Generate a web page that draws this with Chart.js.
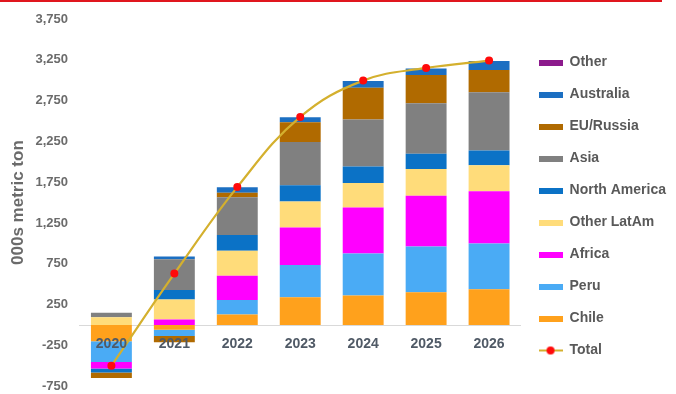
<!DOCTYPE html>
<html>
<head>
<meta charset="utf-8">
<script src="https://cdn.jsdelivr.net/npm/chart.js@4.4.1/dist/chart.umd.min.js"></script>
<style>
  html, body { margin: 0; padding: 0; background: #ffffff; }
  #wrap { position: relative; width: 676px; height: 394px; }
  #rule { position: absolute; left: 0; top: 0; width: 662px; height: 2px; background: #e0161e; }
  canvas { display: block; }
</style>
</head>
<body>
<div id="wrap">
  <canvas id="chart" width="676" height="394"></canvas>
  <div id="rule"></div>
</div>
<script>
// Copper supply contribution by region, 000s metric ton
const years = ['2020', '2021', '2022', '2023', '2024', '2025', '2026'];

const chile        = [-198, -59, 128, 340, 360, 400, 437];
const peru         = [-256, -76, 179, 395, 516, 561, 563];
const africa       = [-80, 67, 297, 460, 565, 622, 640];
const otherLatAm   = [95, 244, 305, 317, 300, 329, 317];
const northAmerica = [-49, 118, 195, 200, 200, 188, 180];
const asia         = [54, 378, 463, 531, 577, 617, 714];
const euRussia     = [-65, -76, 53, 241, 391, 346, 273];
const australia    = [0, 32, 69, 61, 81, 81, 110];
const other        = [0, 0, 0, 0, 0, 0, 0];
const total        = [-500, 630, 1690, 2550, 2995, 3150, 3240];

const yTickStep = 500;
const yMin = -750;
const yMax = 3750;

const FONT = "'Liberation Sans', Arial, sans-serif";
const LINE_GOLD = '#d4b02e';
const DOT_RED = '#ff0a0a';

const barSeries = [
  { label: 'Chile',         data: chile,        color: '#ffa11c' },
  { label: 'Peru',          data: peru,         color: '#4aabf5' },
  { label: 'Africa',        data: africa,       color: '#ff00ff' },
  { label: 'Other LatAm',   data: otherLatAm,   color: '#ffdc7a' },
  { label: 'North America', data: northAmerica, color: '#0b72c6' },
  { label: 'Asia',          data: asia,         color: '#808080' },
  { label: 'EU/Russia',     data: euRussia,     color: '#b06a00' },
  { label: 'Australia',     data: australia,    color: '#1c6fc2' },
  { label: 'Other',         data: other,        color: '#8c1a8c' }
];

// Legend markers: a thick bar swatch for regions, a line with a dot for the total
function barSwatch(color) {
  const c = document.createElement('canvas');
  c.width = 24; c.height = 6;
  const g = c.getContext('2d');
  g.fillStyle = color;
  g.fillRect(0, 0, 24, 6);
  return c;
}
function lineSwatch() {
  const c = document.createElement('canvas');
  c.width = 24; c.height = 10;
  const g = c.getContext('2d');
  g.strokeStyle = LINE_GOLD;
  g.lineWidth = 2;
  g.beginPath(); g.moveTo(0, 5); g.lineTo(24, 5); g.stroke();
  g.fillStyle = DOT_RED;
  g.beginPath(); g.arc(12, 5, 4, 0, Math.PI * 2); g.fill();
  return c;
}

const datasets = barSeries.map(s => ({
  type: 'bar',
  label: s.label,
  data: s.data,
  backgroundColor: s.color,
  borderWidth: 0,
  order: 1,
  barPercentage: 0.65,
  categoryPercentage: 1.0
}));
datasets.push({
  type: 'line',
  label: 'Total',
  data: total,
  borderColor: LINE_GOLD,
  borderWidth: 2.2,
  pointRadius: 4,
  pointBackgroundColor: DOT_RED,
  pointBorderColor: DOT_RED,
  pointBorderWidth: 0,
  tension: 0.4,
  fill: false,
  order: 0
});

const markers = barSeries.map(s => barSwatch(s.color));
markers.push(lineSwatch());

new Chart(document.getElementById('chart'), {
  data: { labels: years, datasets },
  options: {
    responsive: false,
    animation: false,
    layout: { padding: { top: 19, right: 0, bottom: 0, left: 6 } },
    plugins: {
      tooltip: { enabled: false },
      legend: {
        position: 'right',
        reverse: true,
        labels: {
          usePointStyle: true,
          pointStyleWidth: 24,
          boxHeight: 6,
          padding: 18,
          color: '#595959',
          font: { family: FONT, size: 14, weight: 'bold' },
          generateLabels(chart) {
            const items = Chart.defaults.plugins.legend.labels.generateLabels(chart);
            items.forEach(it => { it.pointStyle = markers[it.datasetIndex]; });
            return items;
          }
        }
      }
    },
    scales: {
      x: {
        stacked: true,
        position: { y: 0 },
        grid: { display: true, drawOnChartArea: false, drawTicks: false, color: 'rgba(0,0,0,0)' },
        border: { display: true, color: '#d9d9d9', width: 1 },
        // year labels sit on top of the bars that cross zero
        ticks: { z: 1, color: '#505a66', padding: 11, font: { family: FONT, size: 14, weight: 'bold' } }
      },
      y: {
        stacked: true,
        min: yMin,
        max: yMax,
        // invisible tick marks keep the gap between labels and bars
        grid: { display: true, drawOnChartArea: false, drawTicks: true, tickLength: 12, color: 'rgba(0,0,0,0)' },
        border: { display: false },
        ticks: {
          stepSize: yTickStep,
          padding: 0,
          color: '#6b6b6b',
          font: { family: FONT, size: 13, weight: 'bold' },
          callback: v => v.toLocaleString('en-US')
        },
        title: {
          display: true,
          text: '000s metric ton',
          color: '#6b6b6b',
          padding: { top: 2, bottom: 7 },
          font: { family: FONT, size: 17, weight: 'bold' }
        }
      }
    }
  }
});
</script>
</body>
</html>
